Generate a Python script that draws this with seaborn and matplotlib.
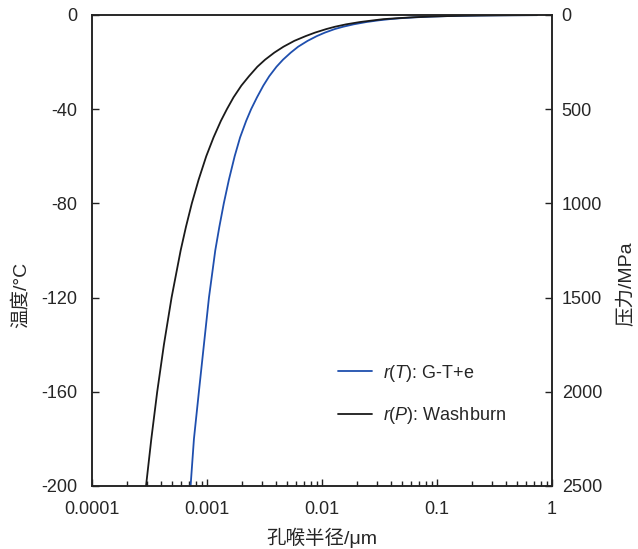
import pandas as pd
import matplotlib
matplotlib.use("Agg")
import matplotlib.pyplot as plt
import seaborn as sns

# values (temperature in °C, pore radius in µm)
temp_gt = [-200, -180, -160, -140, -120, -100, -90, -80, -70, -60, -52, -45, -40, -35,
           -30, -26, -22, -19, -16, -13.5, -11, -9, -7.5, -6, -5, -4, -3, -2.3, -1.8,
           -1.4, -1.0, -0.7, -0.5, -0.35, -0.25, -0.18, -0.13, -0.08]
r_gt = [0.00072, 0.00077, 0.00085, 0.00094, 0.00104, 0.00118, 0.00128, 0.0014, 0.00155,
        0.00174, 0.00194, 0.00219, 0.00242, 0.00272, 0.00309, 0.00348, 0.00402, 0.00458,
        0.00535, 0.0062, 0.0075, 0.009, 0.0106, 0.0129, 0.0153, 0.0188, 0.0244, 0.031,
        0.0385, 0.048, 0.065, 0.09, 0.122, 0.17, 0.235, 0.33, 0.46, 0.74]

temp_wb = [-200, -180, -160, -140, -120, -100, -90, -80, -70, -60, -52, -45, -40, -35,
           -30, -26, -22, -19, -16, -13.5, -11, -9, -7.5, -6, -5, -4, -3, -2.3, -1.8,
           -1.4, -1.0, -0.7, -0.5, -0.35, -0.25, -0.18, -0.13, -0.08]
r_wb = [0.000295, 0.000328, 0.000369, 0.000422, 0.000492, 0.00059, 0.000656, 0.000738,
        0.000845, 0.000985, 0.00114, 0.00132, 0.00149, 0.0017, 0.00199, 0.00232, 0.00274,
        0.0032, 0.00385, 0.00462, 0.00575, 0.0072, 0.0087, 0.0109, 0.013, 0.0162, 0.0215,
        0.028, 0.034, 0.045, 0.062, 0.088, 0.121, 0.17, 0.235, 0.33, 0.46, 0.74]

x_ticks = [0.0001, 0.001, 0.01, 0.1, 1]
x_ticklabels = ["0.0001", "0.001", "0.01", "0.1", "1"]
t_ticks = [0, -40, -80, -120, -160, -200]
p_ticks = [0, 500, 1000, 1500, 2000, 2500]

label_gt = "$r$($T$): G-T+e"
label_wb = "$r$($P$): Washburn"


def main():
    sns.set_style("ticks")
    plt.rcParams["font.family"] = ["Liberation Sans", "Noto Sans CJK SC"]
    plt.rcParams["mathtext.fontset"] = "custom"
    plt.rcParams["mathtext.it"] = "Liberation Sans:italic"
    plt.rcParams["mathtext.rm"] = "Liberation Sans"
    plt.rcParams["axes.unicode_minus"] = False

    df_gt = pd.DataFrame({"r": r_gt, "T": temp_gt})
    df_wb = pd.DataFrame({"r": r_wb, "T": temp_wb})

    fig = plt.figure(figsize=(6.38, 5.49), dpi=100)
    ax = fig.add_axes([0.1442, 0.1148, 0.721, 0.858])

    sns.lineplot(data=df_gt, x="r", y="T", ax=ax, color="#1f4fae", lw=1.3,
                 label=label_gt, estimator=None)
    sns.lineplot(data=df_wb, x="r", y="T", ax=ax, color="#1a1a1a", lw=1.3,
                 label=label_wb, estimator=None)

    ax.set_xscale("log")
    ax.set_xlim(0.0001, 1)
    ax.set_ylim(-200, 0)
    ax.set_xticks(x_ticks)
    ax.set_xticklabels(x_ticklabels)
    ax.set_yticks(t_ticks)
    ax.set_xlabel("孔喉半径/μm", fontsize=14, labelpad=7)
    ax.set_ylabel("温度/°C", fontsize=14)
    ax.yaxis.set_label_coords(-0.135, 0.405)
    ax.tick_params(axis="both", which="both", direction="in", labelsize=13,
                   top=False, right=False, color="#222222")
    ax.tick_params(axis="y", which="major", length=5, width=1, pad=10.5)
    ax.tick_params(axis="x", which="major", length=5, width=1, pad=11)
    ax.tick_params(axis="x", which="minor", length=3.5, width=1)

    ax2 = ax.twinx()
    ax2.set_ylim(2500, 0)
    ax2.set_yticks(p_ticks)
    ax2.set_ylabel("压力/MPa", fontsize=14)
    ax2.yaxis.set_label_coords(1.142, 0.43)
    ax2.tick_params(axis="y", direction="in", labelsize=13, length=5, width=1,
                    pad=7, color="#222222")

    for a in (ax, ax2):
        for sp in a.spines.values():
            sp.set_linewidth(1.1)
            sp.set_color("#222222")
            sp.set_visible(True)

    ax.legend(loc="upper left", bbox_to_anchor=(0.535, 0.262), frameon=False,
              fontsize=13, handlelength=1.9, handletextpad=0.6,
              labelspacing=1.2, borderpad=0, borderaxespad=0)

    plt.savefig("out.png", dpi=100)


if __name__ == "__main__":
    main()
